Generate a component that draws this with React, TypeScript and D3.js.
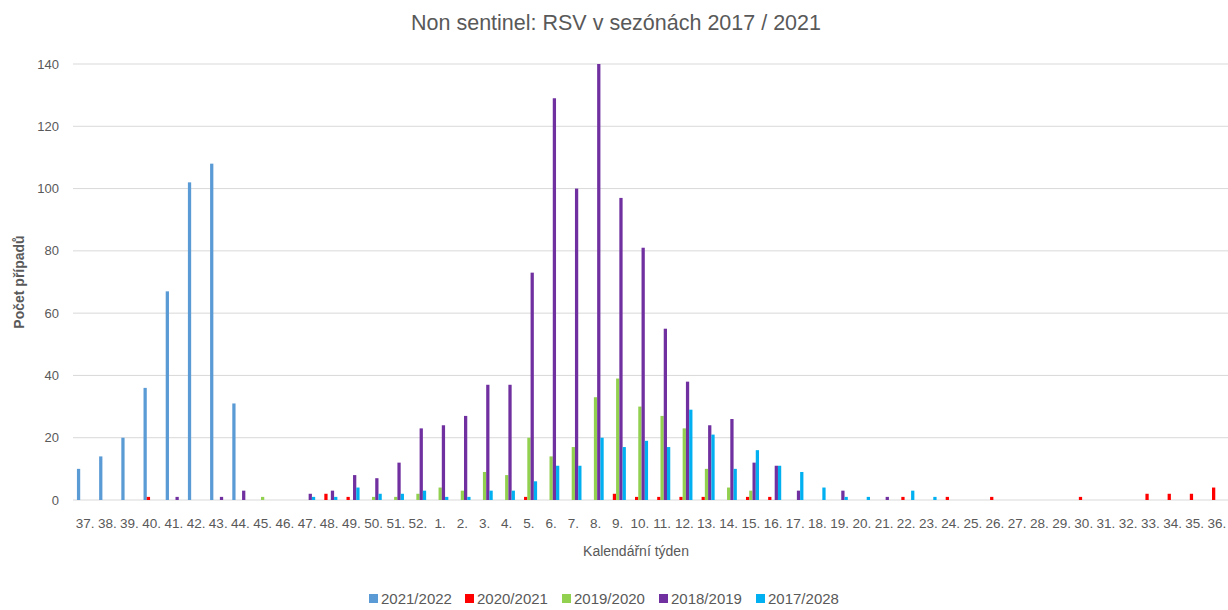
import React, { useEffect, useRef } from 'react';
import * as d3 from 'd3';

// calendar weeks, season runs from week 37 to week 36
const weeks = [
	'37.', '38.', '39.', '40.', '41.', '42.', '43.', '44.', '45.', '46.', '47.', '48.', '49.', '50.', '51.', '52.',
	'1.', '2.', '3.', '4.', '5.', '6.', '7.', '8.', '9.', '10.', '11.', '12.', '13.', '14.', '15.', '16.', '17.', '18.',
	'19.', '20.', '21.', '22.', '23.', '24.', '25.', '26.', '27.', '28.', '29.', '30.', '31.', '32.', '33.', '34.', '35.', '36.',
];

const seasons = ['2021/2022', '2020/2021', '2019/2020', '2018/2019', '2017/2028'];
const colors = ['#5B9BD5', '#FF0000', '#92D050', '#7030A0', '#00B0F0'];

const s2021 = [
	10, 14, 20, 36, 67, 102, 108, 31, 0, 0, 0, 0, 0, 0, 0, 0,
	0, 0, 0, 0, 0, 0, 0, 0, 0, 0, 0, 0, 0, 0, 0, 0, 0, 0,
	0, 0, 0, 0, 0, 0, 0, 0, 0, 0, 0, 0, 0, 0, 0, 0, 0, 0,
];
const s2020 = [
	0, 0, 0, 1, 0, 0, 0, 0, 0, 0, 0, 2, 1, 0, 0, 0,
	0, 0, 0, 0, 1, 0, 0, 0, 2, 1, 1, 1, 1, 0, 1, 1, 0, 0,
	0, 0, 0, 1, 0, 1, 0, 1, 0, 0, 0, 1, 0, 0, 2, 2, 2, 4,
];
const s2019 = [
	0, 0, 0, 0, 0, 0, 0, 0, 1, 0, 0, 0, 0, 1, 1, 2,
	4, 3, 9, 8, 20, 14, 17, 33, 39, 30, 27, 23, 10, 4, 3, 0, 0, 0,
	0, 0, 0, 0, 0, 0, 0, 0, 0, 0, 0, 0, 0, 0, 0, 0, 0, 0,
];
const s2018 = [
	0, 0, 0, 0, 1, 0, 1, 3, 0, 0, 2, 3, 8, 7, 12, 23,
	24, 27, 37, 37, 73, 129, 100, 140, 97, 81, 55, 38, 24, 26, 12, 11, 3, 0,
	3, 0, 1, 0, 0, 0, 0, 0, 0, 0, 0, 0, 0, 0, 0, 0, 0, 0,
];
const s2017 = [
	0, 0, 0, 0, 0, 0, 0, 0, 0, 0, 1, 1, 4, 2, 2, 3,
	1, 1, 3, 3, 6, 11, 11, 20, 17, 19, 17, 29, 21, 10, 16, 11, 9, 4,
	1, 1, 0, 3, 1, 0, 0, 0, 0, 0, 0, 0, 0, 0, 0, 0, 0, 0,
];
const seriesValues = [s2021, s2020, s2019, s2018, s2017];

const yTicks = [0, 20, 40, 60, 80, 100, 120, 140];

const W = 1228;
const H = 610;
const FONT = '"Liberation Sans", Arial, sans-serif';
const TEXT = '#595959';

const App: React.FC = () => {
	const ref = useRef<SVGSVGElement>(null);

	useEffect(() => {
		if (!ref.current) return;
		const svg = d3.select(ref.current);
		svg.selectAll('*').remove();

		const left = 74;
		const right = 1228;
		const top = 64;
		const bottom = 500;

		const x0 = d3.scaleBand<string>().domain(weeks).range([left, right]).padding(0);
		const x1 = d3
			.scaleBand<string>()
			.domain(seasons)
			.range([0, x0.bandwidth()])
			.paddingInner(0)
			.paddingOuter(0.9);
		const y = d3.scaleLinear().domain([0, 140]).range([bottom, top]);

		// gridlines
		svg
			.append('g')
			.selectAll('line')
			.data(yTicks)
			.enter()
			.append('line')
			.attr('x1', 73)
			.attr('x2', right)
			.attr('y1', (d) => y(d))
			.attr('y2', (d) => y(d))
			.attr('stroke', '#d9d9d9')
			.attr('stroke-width', 1);

		// y tick labels
		svg
			.append('g')
			.selectAll('text')
			.data(yTicks)
			.enter()
			.append('text')
			.attr('x', 59)
			.attr('y', (d) => y(d))
			.attr('dy', '0.35em')
			.attr('text-anchor', 'end')
			.attr('font-family', FONT)
			.attr('font-size', 13)
			.attr('fill', TEXT)
			.text((d) => d);

		// bars
		seasons.forEach((s, si) => {
			svg
				.append('g')
				.selectAll('rect')
				.data(seriesValues[si].map((v, i) => ({ week: weeks[i], v })).filter((d) => d.v > 0))
				.enter()
				.append('rect')
				.attr('x', (d) => (x0(d.week) as number) + (x1(s) as number))
				.attr('y', (d) => y(d.v))
				.attr('width', x1.bandwidth())
				.attr('height', (d) => bottom - y(d.v))
				.attr('fill', colors[si]);
		});

		// x tick labels
		svg
			.append('g')
			.selectAll('text')
			.data(weeks)
			.enter()
			.append('text')
			.attr('x', (d) => (x0(d) as number) + x0.bandwidth() / 2)
			.attr('y', 528)
			.attr('text-anchor', 'middle')
			.attr('font-family', FONT)
			.attr('font-size', 13.5)
			.attr('fill', TEXT)
			.text((d) => d);

		// title
		svg
			.append('text')
			.attr('x', 616)
			.attr('y', 30)
			.attr('text-anchor', 'middle')
			.attr('font-family', FONT)
			.attr('font-size', 21.5)
			.attr('fill', TEXT)
			.text('Non sentinel: RSV v sezónách 2017 / 2021');

		// axis titles
		svg
			.append('text')
			.attr('transform', `translate(24, 282) rotate(-90)`)
			.attr('text-anchor', 'middle')
			.attr('font-family', FONT)
			.attr('font-size', 14)
			.attr('font-weight', 'bold')
			.attr('fill', TEXT)
			.text('Počet případů');

		svg
			.append('text')
			.attr('x', 636)
			.attr('y', 556)
			.attr('text-anchor', 'middle')
			.attr('font-family', FONT)
			.attr('font-size', 14)
			.attr('fill', TEXT)
			.text('Kalendářní týden');

		// legend
		const legendX = [369, 465, 562, 659, 756];
		const legend = svg.append('g');
		seasons.forEach((s, i) => {
			const g = legend.append('g').attr('transform', `translate(${legendX[i]}, 604)`);
			g.append('rect').attr('x', 0).attr('y', -10).attr('width', 9).attr('height', 9).attr('fill', colors[i]);
			g.append('text')
				.attr('x', 12)
				.attr('y', 0)
				.attr('font-family', FONT)
				.attr('font-size', 15)
				.attr('fill', TEXT)
				.text(s);
		});
	}, []);

	return (
		<svg
			ref={ref}
			width={W}
			height={H}
			style={{ position: 'absolute', left: 0, top: 0, background: '#fff' }}
		/>
	);
};

export default App;
